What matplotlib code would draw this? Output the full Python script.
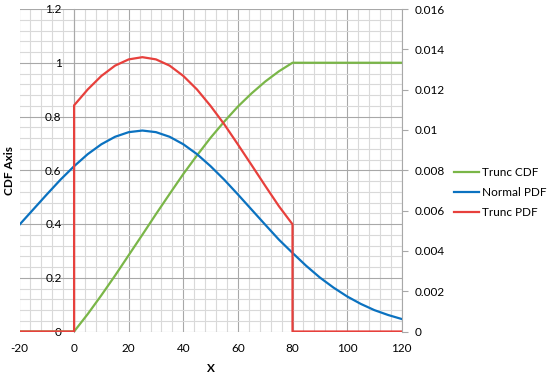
import matplotlib.pyplot as plt
from matplotlib.ticker import MultipleLocator

plt.rcParams['font.family'] = ['Lato', 'DejaVu Sans']

# x positions of the sampled rows (step 5)
x_vals = [-20, -15, -10, -5, 0, 5, 10, 15, 20, 25, 30, 35, 40, 45, 50,
          55, 60, 65, 70, 75, 80, 85, 90, 95, 100, 105, 110, 115, 120]

# truncated CDF (left axis)
trunc_cdf = [0, 0, 0, 0, 0, 0.065, 0.135, 0.208, 0.284, 0.360, 0.437,
             0.512, 0.586, 0.655, 0.721, 0.781, 0.837, 0.886, 0.930,
             0.968, 1.0, 1.0, 1.0, 1.0, 1.0, 1.0, 1.0, 1.0, 1.0]

# normal PDF (right axis)
normal_pdf = [0.00530, 0.00605, 0.00680, 0.00753, 0.00820, 0.00880,
              0.00929, 0.00966, 0.00989, 0.00997, 0.00989, 0.00966,
              0.00929, 0.00880, 0.00820, 0.00753, 0.00680, 0.00605,
              0.00530, 0.00456, 0.00390, 0.00326, 0.00268, 0.00218,
              0.00174, 0.00137, 0.00106, 0.00082, 0.00062]

# truncated PDF (right axis), with the jumps at 0 and 80
trunc_x = [-20, 0, 0, 5, 10, 15, 20, 25, 30, 35, 40, 45, 50, 55, 60,
           65, 70, 75, 80, 80, 120]
trunc_pdf = [0, 0, 0.01122, 0.01201, 0.01268, 0.01319, 0.01350, 0.01361,
             0.01350, 0.01319, 0.01268, 0.01201, 0.01119, 0.01028,
             0.00928, 0.00826, 0.00723, 0.00622, 0.00532, 0, 0]

W, H = 550, 377
fig = plt.figure(figsize=(W / 100, H / 100), dpi=100)
left, right, top, bottom = 19.5, 401.7, 9, 331.5
ax = fig.add_axes([left / W, 1 - bottom / H, (right - left) / W, (bottom - top) / H])
ax2 = ax.twinx()

green = '#7AB648'
blue = '#0B72C0'
red = '#E7403C'
fs = 8.5

l1, = ax.plot(x_vals, trunc_cdf, color=green, lw=1.6, label='Trunc CDF')
l2, = ax2.plot(x_vals, normal_pdf, color=blue, lw=1.6, label='Normal PDF')
l3, = ax2.plot(trunc_x, trunc_pdf, color=red, lw=1.6, label='Trunc PDF')

ax.set_xlim(-20, 120)
ax.set_ylim(0, 1.2)
ax2.set_ylim(0, 0.016)

ax.xaxis.set_major_locator(MultipleLocator(20))
ax.xaxis.set_minor_locator(MultipleLocator(4))
ax.yaxis.set_major_locator(MultipleLocator(0.2))
ax.yaxis.set_minor_locator(MultipleLocator(0.04))
ax2.yaxis.set_major_locator(MultipleLocator(0.002))

ax.grid(which='major', color='#a8a8a8', lw=0.8)
ax.grid(which='minor', color='#d9d9d9', lw=0.8)
ax.set_axisbelow(True)

for s in ['top', 'bottom']:
    ax.spines[s].set_visible(False)
    ax2.spines[s].set_visible(False)
ax.spines['right'].set_visible(False)
ax2.spines['left'].set_visible(False)
ax2.spines['right'].set_color('#a8a8a8')
ax.spines['left'].set_position(('data', 0))
ax.spines['left'].set_color('#a8a8a8')

ax.tick_params(axis='x', which='both', length=0, pad=8, labelsize=fs)
ax.tick_params(axis='y', which='both', length=0, pad=9, labelsize=fs)
ax2.tick_params(axis='y', length=4, width=0.8, color='#a8a8a8', pad=5.5, labelsize=fs)

ax.set_xticklabels([str(int(v)) for v in ax.get_xticks()])
ax.yaxis.set_major_formatter(lambda v, p: f'{v:g}')
ax2.yaxis.set_major_formatter(lambda v, p: f'{v:g}')

ax.set_xlabel('X', fontsize=fs, fontweight='bold')
ax.xaxis.set_label_coords(0.5, -(362.5 - bottom) / (bottom - top), transform=ax.transAxes)
ax.set_ylabel('CDF Axis', fontsize=fs, fontweight='bold')
ax.yaxis.set_label_coords(-(left - 15.5) / (right - left), 0.5, transform=ax.transAxes)

fig.legend([l1, l2, l3], ['Trunc CDF', 'Normal PDF', 'Trunc PDF'],
           loc='center left', bbox_to_anchor=(454 / W, 1 - 192.5 / H),
           frameon=False, fontsize=fs, handlelength=2.1, handletextpad=0.25,
           labelspacing=0.75, borderpad=0, borderaxespad=0)

fig.savefig('out.png', dpi=100)
